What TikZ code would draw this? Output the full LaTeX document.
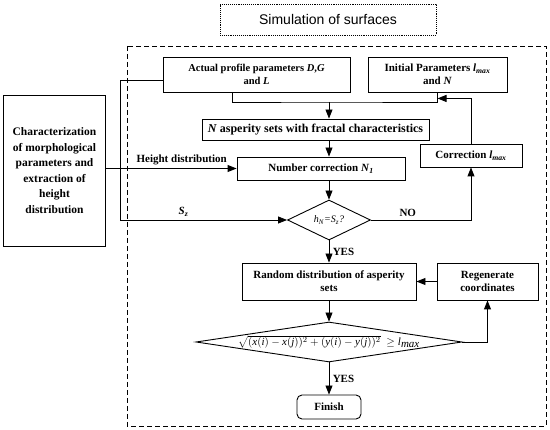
\documentclass[tikz,border=0pt]{standalone}
\usepackage{fontspec}
\setmainfont{Liberation Serif}
\newfontfamily\titlefont{Liberation Sans}
\usetikzlibrary{positioning, arrows.meta, shapes.geometric}

\begin{document}
\begin{tikzpicture}[x=1pt, y=-1pt,
        font=\fontsize{11}{13}\selectfont\bfseries,
        block/.style={draw, line width=0.9pt, align=center, inner sep=2pt},
        decision/.style={draw, diamond, line width=0.9pt, inner sep=0pt},
        arrow/.style={-{Triangle[length=9pt, width=7pt]}, line width=0.9pt},
        link/.style={line width=0.9pt},
    ]
    \useasboundingbox (0,0) rectangle (550,430);

    % title and frame of the simulation
    \node[draw, densely dotted, line width=0.9pt, minimum width=216pt, minimum height=31pt,
          font=\titlefont\fontsize{14}{16}\selectfont] (title) at (328,19.5) {Simulation of surfaces};
    \draw[dash pattern=on 5pt off 3pt, line width=0.8pt] (127,46) rectangle (546,426);

    \node[block, minimum width=187pt, minimum height=35pt, font=\fontsize{10.5}{13}\selectfont\bfseries] (actual) at (256.5,74.5)
        {Actual profile parameters \textit{D},\textit{G}\\and \textit{L}};
    \node[block, minimum width=139pt, minimum height=35pt] (init) at (437.5,74.5)
        {Initial Parameters \textit{l}\textsubscript{\textit{max}}\\and \textit{N}};
    \node[block, minimum width=227pt, minimum height=21pt, font=\fontsize{12}{14}\selectfont\bfseries] (nasp) at (315.5,129.5)
        {\textit{N} asperity sets with fractal characteristics};
    \node[block, minimum width=168pt, minimum height=23pt] (ncorr) at (321,168.5)
        {Number correction \textit{N}\textsubscript{\textit{1}}};
    \node[block, minimum width=102pt, minimum height=23pt] (corr) at (471,155.5)
        {Correction \textit{l}\textsubscript{\textit{max}}};
    \node[block, minimum width=102pt, minimum height=151pt,
          font=\fontsize{11.5}{15.5}\selectfont\bfseries] (char) at (54.5,170.5)
        {Characterization\\of morphological\\parameters and\\extraction of\\height\\distribution};
    \node[decision, minimum width=83pt, minimum height=40pt,
          label={[font=\normalfont\itshape]center:h\textsubscript{N}=S\textsubscript{z}?}] (test) at (329,220) {};
    \node[block, minimum width=174pt, minimum height=37pt] (random) at (329,281.5)
        {Random distribution of asperity\\sets};
    \node[block, minimum width=101pt, minimum height=37pt] (regen) at (487.5,281.5)
        {Regenerate\\coordinates};
    \node[decision, minimum width=266pt, minimum height=40pt,
          label={[font=\fontsize{11}{13}\selectfont]center:$\sqrt{(\textit{x}(\textit{i})-\textit{x}(\textit{j}))^2+(\textit{y}(\textit{i})-\textit{y}(\textit{j}))^2}\ \geq \textit{l}_{\textit{max}}$}] (check) at (329,342) {};
    \node[block, rounded corners=5pt, minimum width=64pt, minimum height=24pt] (finish) at (329,407) {Finish};

    \coordinate (join) at (329,102);
    \coordinate (sbend) at (120,0);

    % merging the parameters
    \draw[link] ([xshift=-24.5pt]actual.south) |- (join) -| (init.south);
    \draw[arrow] (join) -- (join |- nasp.north);
    \draw[arrow] (join |- nasp.south) -- (join |- ncorr.north);
    \draw[arrow] (join |- ncorr.south) -- (test.north);
    \draw[arrow] (char.east |- ncorr.west) -- node[above, pos=0.58] {Height distribution} (ncorr.west);
    \draw[link] ([yshift=-5.5pt]actual.west) -| (sbend |- test.west);
    \draw[arrow] (sbend |- test.west) -- node[above, pos=0.38] {\textit{S}\textsubscript{\textit{z}}} (test.west);
    \draw[arrow] (test.east) -| node[above, pos=0.184] {NO} (corr.south);
    \draw[arrow] (corr.north) |- ([yshift=-6pt]init.south);
    \draw[arrow] (test.south) -- node[right] {YES} (random.north);
    \draw[arrow] (random.south) -- (check.north);
    \draw[arrow] (check.east) -| (regen.south);
    \draw[arrow] (regen.west) -- (random.east);
    \draw[arrow] (check.south) -- node[right] {YES} (finish.north);
\end{tikzpicture}
\end{document}
